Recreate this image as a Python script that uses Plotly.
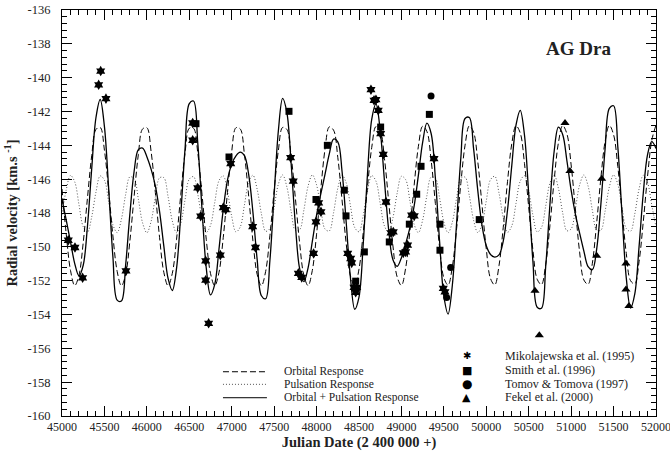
import plotly.graph_objects as go

# ---------------- data ----------------
jd_grid = list(range(45000, 52001, 50))

orbital_rv = [
    -146.58, -149.25, -151.39, -152.29, -151.68, -149.75, -147.11, -144.62, -143.06, -142.94,
    -144.29, -146.68, -149.36, -151.45, -152.30, -151.63, -149.65, -147.01, -144.53, -143.03,
    -142.96, -144.37, -146.79, -149.46, -151.51, -152.30, -151.57, -149.55, -146.90, -144.45,
    -142.99, -142.99, -144.45, -146.90, -149.56, -151.57, -152.30, -151.51, -149.46, -146.79,
    -144.37, -142.96, -143.03, -144.54, -147.01, -149.65, -151.63, -152.30, -151.45, -149.35,
    -146.68, -144.29, -142.94, -143.06, -144.62, -147.12, -149.75, -151.68, -152.29, -151.39,
    -149.25, -146.58, -144.21, -142.91, -143.10, -144.71, -147.22, -149.85, -151.73, -152.29,
    -151.32, -149.15, -146.47, -144.13, -142.89, -143.14, -144.79, -147.33, -149.94, -151.79,
    -152.28, -151.25, -149.05, -146.36, -144.06, -142.87, -143.18, -144.88, -147.44, -150.04,
    -151.83, -152.26, -151.18, -148.94, -146.26, -143.99, -142.85, -143.22, -144.97, -147.55,
    -150.13, -151.88, -152.25, -151.11, -148.84, -146.15, -143.92, -142.84, -143.27, -145.07,
    -147.66, -150.22, -151.92, -152.23, -151.04, -148.74, -146.05, -143.85, -142.83, -143.32,
    -145.16, -147.77, -150.31, -151.96, -152.21, -150.97, -148.63, -145.95, -143.78, -142.82,
    -143.37, -145.25, -147.88, -150.40, -152.00, -152.19, -150.89, -148.52, -145.85, -143.71,
    -142.81,
]

pulsation_rv = [
    -148.09, -146.63, -145.78, -146.16, -147.50, -148.81, -149.13, -148.23, -146.77, -145.81,
    -146.06, -147.34, -148.70, -149.16, -148.37, -146.91, -145.86, -145.98, -147.18, -148.59,
    -149.17, -148.50, -147.06, -145.92, -145.91, -147.03, -148.47, -149.17, -148.62, -147.22,
    -146.00, -145.85, -146.88, -148.34, -149.15, -148.73, -147.38, -146.09, -145.80, -146.73,
    -148.20, -149.12, -148.83, -147.53, -146.18, -145.77, -146.60, -148.05, -149.08, -148.92,
    -147.69, -146.29, -145.75, -146.46, -147.90, -149.02, -148.99, -147.84, -146.41, -145.75,
    -146.34, -147.75, -148.95, -149.06, -147.99, -146.54, -145.76, -146.23, -147.59, -148.86,
    -149.11, -148.14, -146.68, -145.79, -146.12, -147.44, -148.77, -149.14, -148.28, -146.82,
    -145.83, -146.03, -147.28, -148.68, -149.16, -148.42, -146.97, -145.88, -145.95, -147.12,
    -148.54, -149.17, -148.54, -147.12, -145.95, -145.88, -146.97, -148.42, -149.16, -148.66,
    -147.28, -146.03, -145.83, -146.82, -148.28, -149.14, -148.77, -147.44, -146.12, -145.79,
    -146.68, -148.14, -149.11, -148.86, -147.59, -146.23, -145.76, -146.54, -147.99, -149.05,
    -148.94, -147.75, -146.34, -145.75, -146.41, -147.84, -148.99, -149.02, -147.90, -146.46,
    -145.75, -146.30, -147.69, -148.92, -149.08, -148.05, -146.59, -145.77, -146.19, -147.53,
    -148.83,
]

combined_rv = [
    -147.20, -148.42, -149.70, -150.99, -151.72, -151.09, -148.78, -145.39, -142.37, -141.29,
    -142.89, -146.56, -150.60, -153.15, -153.20, -151.08, -148.05, -145.53, -144.25, -144.16,
    -144.67, -145.41, -146.40, -147.92, -149.96, -151.87, -152.58, -151.26, -148.06, -144.21,
    -141.53, -141.38, -143.87, -147.78, -151.25, -152.84, -152.22, -150.13, -147.80, -146.06,
    -145.11, -144.62, -144.40, -144.61, -145.73, -147.96, -150.76, -152.89, -153.07, -150.81,
    -146.91, -143.12, -141.23, -142.06, -145.06, -148.68, -151.28, -152.06, -151.24, -149.68,
    -148.13, -146.87, -145.70, -144.51, -143.63, -143.79, -145.53, -148.61, -151.87, -153.69,
    -152.97, -149.83, -145.69, -142.46, -141.55, -143.12, -146.10, -149.01, -150.76, -151.15,
    -150.64, -149.82, -148.87, -147.58, -145.76, -143.83, -142.69, -143.30, -145.93, -149.70,
    -152.92, -153.97, -152.27, -148.61, -144.75, -142.41, -142.36, -144.18, -146.68, -148.75,
    -149.94, -150.45, -150.61, -150.48, -149.66, -147.84, -145.22, -142.81, -141.93, -143.39,
    -146.88, -150.90, -153.57, -153.63, -151.17, -147.50, -144.35, -142.93, -143.36, -144.91,
    -146.65, -148.06, -149.19, -150.25, -151.17, -151.35, -150.16, -147.51, -144.22, -141.82,
    -141.66, -144.09, -148.11, -151.85, -153.62, -152.78, -150.02, -146.83, -144.57, -143.78,
    -144.18,
]

mik_jd = [45074, 45153, 45243, 45432, 45456, 45518, 45754, 46540, 46540, 46599,
          46634, 46693, 46693, 46728, 46866, 46901, 46929, 46988, 47247, 47280,
          47694, 47725, 47785, 47825, 47965, 47993, 48025, 48052, 48367, 48402,
          48414, 48441, 48473, 48461, 48641, 48677, 48700, 48727, 48755, 48786,
          48818, 48877, 48904, 49022, 49050, 49073, 49120, 49151, 49384, 49493,
          49513]
mik_rv = [-149.61, -150.04, -151.83, -140.42, -139.61, -141.24, -151.42, -142.68, -143.70, -146.52,
          -148.19, -150.83, -151.97, -154.52, -150.49, -147.68, -147.80, -145.08, -148.80, -150.04,
          -144.73, -146.12, -151.57, -151.81, -150.39, -148.53, -147.40, -147.93, -150.39, -150.69,
          -150.95, -152.40, -152.40, -152.69, -140.71, -141.34, -141.30, -141.93, -143.31, -144.53,
          -147.35, -149.17, -149.12, -150.36, -150.30, -149.90, -148.13, -148.17, -144.79, -152.46,
          -152.66]

smith_jd = [46579, 46968, 47675, 47993, 48127, 48327, 48347, 48461, 48563,
            48755, 48857, 49093, 49180, 49231, 49329, 49454, 49454, 49917]
smith_rv = [-142.72, -144.69, -141.99, -147.20, -144.00, -146.65, -148.17, -152.03, -150.30,
            -142.92, -149.71, -148.66, -146.89, -145.24, -142.17, -148.66, -150.20, -148.39]

tomov_jd = [49349, 49533, 49580]
tomov_rv = [-141.09, -152.99, -151.22]

fekel_jd = [50574, 50625, 50928, 50986, 51301, 51360, 51646, 51646, 51681]
fekel_rv = [-152.60, -155.22, -142.68, -145.51, -150.53, -145.97, -150.99, -152.52, -153.50]

x_ticks = list(range(45000, 52001, 500))
x_tick_labels = [str(v) for v in x_ticks]
y_ticks = list(range(-160, -135, 2))
y_tick_labels = ["-" + str(abs(v)) for v in y_ticks]

# ---------------- figure ----------------
SERIF = "Liberation Serif, Times New Roman, serif"
TXT = "#222222"
fig = go.Figure()

fig.add_trace(go.Scatter(x=jd_grid, y=pulsation_rv, mode="lines",
                         line=dict(color="#555555", width=1, dash="1px,2px", shape="spline"),
                         hoverinfo="skip"))
fig.add_trace(go.Scatter(x=jd_grid, y=orbital_rv, mode="lines",
                         line=dict(color="black", width=1, dash="6px,3px", shape="spline"),
                         hoverinfo="skip"))
fig.add_trace(go.Scatter(x=jd_grid, y=combined_rv, mode="lines",
                         line=dict(color="black", width=1.3, shape="spline"),
                         hoverinfo="skip"))

fig.add_trace(go.Scatter(x=mik_jd, y=mik_rv, mode="markers",
                         marker=dict(symbol="hexagram", size=8, color="black", line=dict(width=0))))
fig.add_trace(go.Scatter(x=smith_jd, y=smith_rv, mode="markers",
                         marker=dict(symbol="square", size=7, color="black", line=dict(width=0))))
fig.add_trace(go.Scatter(x=tomov_jd, y=tomov_rv, mode="markers",
                         marker=dict(symbol="circle", size=7, color="black", line=dict(width=0))))
fig.add_trace(go.Scatter(x=fekel_jd, y=fekel_rv, mode="markers",
                         marker=dict(symbol="triangle-up", size=8, color="black", line=dict(width=0))))

axis_common = dict(
    automargin=False,
    showline=True, linecolor="black", linewidth=1, mirror="allticks",
    ticks="inside", ticklen=10, tickwidth=1, tickcolor="black",
    showgrid=False, zeroline=False,
)

fig.update_xaxes(range=[45000, 52000], tickvals=x_ticks, ticktext=x_tick_labels,
                 tickfont=dict(family=SERIF, size=12, color=TXT),
                 ticklabeloverflow="allow",
                 minor=dict(dtick=100, ticks="inside", ticklen=5, tickcolor="black", showgrid=False),
                 ticklabelstandoff=0,
                 title=dict(text="<b>Julian Date (2 400 000 +)</b>", standoff=2,
                            font=dict(family=SERIF, size=14.5, color=TXT)),
                 **axis_common)
fig.update_yaxes(range=[-160, -136], tickvals=y_ticks, ticktext=y_tick_labels,
                 tickfont=dict(family=SERIF, size=12.5, color=TXT),
                 minor=dict(dtick=0.4, ticks="inside", ticklen=5, tickcolor="black", showgrid=False),
                 ticklabelstandoff=8,
                 title=dict(text="<b>Radial velocity [km.s <sup>-1</sup>]</b>", standoff=6,
                            font=dict(family=SERIF, size=14.5, color=TXT)),
                 **axis_common)

# legend (drawn as annotations / shapes in paper coordinates)
line_rows = [("Orbital Response", "6px,3px", 0.109),
             ("Pulsation Response", "1px,2px", 0.078),
             ("Orbital + Pulsation Response", "solid", 0.045)]
for label, dash, yy in line_rows:
    fig.add_shape(type="line", xref="paper", yref="paper", x0=0.271, x1=0.345, y0=yy, y1=yy,
                  line=dict(color="black" if dash != "1px,2px" else "#555555", width=1, dash=dash))
    fig.add_annotation(xref="paper", yref="paper", x=0.370, y=yy, text=label, showarrow=False,
                       xanchor="left", yanchor="middle",
                       font=dict(family=SERIF, size=11.5, color=TXT))

marker_rows = [("\u2731", "Mikolajewska et al. (1995)", 0.148, 10),
               ("\u25A0", "Smith et al. (1996)", 0.113, 11),
               ("\u25CF", "Tomov & Tomova (1997)", 0.079, 12),
               ("\u25B2", "Fekel et al. (2000)", 0.046, 11)]
for glyph, label, yy, gs in marker_rows:
    fig.add_annotation(xref="paper", yref="paper", x=0.681, y=yy, text=glyph, showarrow=False,
                       xanchor="center", yanchor="middle",
                       font=dict(family="DejaVu Sans", size=gs, color="black"))
    fig.add_annotation(xref="paper", yref="paper", x=0.742, y=yy, text=label, showarrow=False,
                       xanchor="left", yanchor="middle",
                       font=dict(family=SERIF, size=12, color=TXT))

fig.add_annotation(xref="paper", yref="paper", x=0.869, y=0.904, text="<b>AG Dra</b>",
                   showarrow=False, xanchor="center", yanchor="middle",
                   font=dict(family=SERIF, size=19, color=TXT))

fig.update_layout(
    template="none",
    font=dict(family=SERIF, color=TXT),
    width=670, height=457,
    margin=dict(l=62, r=14, t=10, b=41, autoexpand=False),
    paper_bgcolor="white", plot_bgcolor="white",
    showlegend=False,
)

fig.write_html("out.html",
               config={"displayModeBar": False},
               post_script="document.body.style.margin='0px';document.body.style.padding='0px';")
